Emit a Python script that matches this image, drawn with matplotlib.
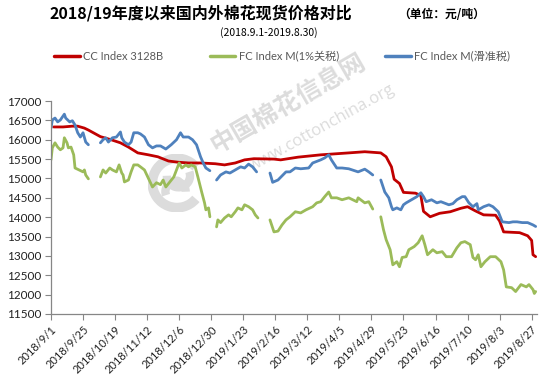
import matplotlib
matplotlib.use("Agg")
import matplotlib.pyplot as plt
from matplotlib.patches import Arc, Circle
import numpy as np
import pandas as pd

plt.rcParams['font.family'] = ['Lato', 'Noto Sans CJK SC', 'DejaVu Sans']

# ---------------- data ----------------
cc_dates = ["2018-09-03","2018-09-10","2018-09-17","2018-09-21","2018-09-26","2018-09-29",
            "2018-10-08","2018-10-16","2018-10-23","2018-10-29","2018-11-05","2018-11-13",
            "2018-11-20","2018-11-28","2018-12-05","2018-12-13","2018-12-22","2019-01-02",
            "2019-01-09","2019-01-17","2019-01-24","2019-01-31","2019-02-15","2019-02-20",
            "2019-03-05","2019-03-22","2019-04-12","2019-04-24","2019-05-06","2019-05-10",
            "2019-05-14","2019-05-16","2019-05-20","2019-05-23","2019-06-01","2019-06-05",
            "2019-06-07","2019-06-12","2019-06-19","2019-06-27","2019-07-05","2019-07-10",
            "2019-07-16","2019-07-22","2019-07-31","2019-08-03","2019-08-06","2019-08-18",
            "2019-08-24","2019-08-27","2019-08-28","2019-08-30"]
cc_values = [16330,16330,16350,16350,16300,16250,
             16080,16000,15920,15810,15660,15610,
             15560,15450,15420,15400,15400,15380,
             15350,15400,15480,15510,15500,15480,
             15550,15610,15660,15690,15660,15560,
             15300,14980,14870,14640,14620,14560,
             14150,14010,14100,14140,14230,14270,
             14160,14060,14050,13900,13620,13600,
             13520,13400,13030,12980]

# FC Index M (sliding-scale duty); None marks holiday gaps
fcs_dates = ["2018-09-01","2018-09-02","2018-09-04","2018-09-06","2018-09-08","2018-09-11",
             "2018-09-12","2018-09-15","2018-09-17","2018-09-19","2018-09-21","2018-09-23",
             "2018-09-25","2018-09-27","2018-09-29","2018-10-03",
             "2018-10-08","2018-10-10","2018-10-12","2018-10-14","2018-10-17","2018-10-20",
             "2018-10-23","2018-10-24","2018-10-26","2018-10-29","2018-10-31","2018-11-02",
             "2018-11-05","2018-11-07","2018-11-10","2018-11-13","2018-11-16","2018-11-19",
             "2018-11-22","2018-11-26","2018-11-30","2018-12-04","2018-12-07","2018-12-09",
             "2018-12-13","2018-12-16","2018-12-19","2018-12-22","2018-12-24","2018-12-26",
             "2018-12-29","2019-01-01",
             "2019-01-03","2019-01-06","2019-01-10","2019-01-13","2019-01-17","2019-01-21",
             "2019-01-24","2019-01-27","2019-01-30","2019-02-02","2019-02-07",
             "2019-02-12","2019-02-14","2019-02-18","2019-02-24","2019-02-27","2019-03-03",
             "2019-03-07","2019-03-13","2019-03-16","2019-03-22","2019-03-25","2019-03-28",
             "2019-03-30","2019-04-03","2019-04-07","2019-04-12","2019-04-19","2019-04-24",
             "2019-04-27","2019-04-30","2019-05-03",
             "2019-05-06","2019-05-09","2019-05-12","2019-05-14","2019-05-15","2019-05-18",
             "2019-05-21","2019-05-23","2019-05-25","2019-05-29","2019-06-02","2019-06-05",
             "2019-06-07","2019-06-09","2019-06-13","2019-06-17","2019-06-20","2019-06-26",
             "2019-06-29","2019-07-02","2019-07-06","2019-07-08","2019-07-11","2019-07-14",
             "2019-07-17","2019-07-18","2019-07-22","2019-07-26","2019-07-29","2019-08-02",
             "2019-08-05","2019-08-10","2019-08-13","2019-08-16","2019-08-20","2019-08-24",
             "2019-08-28","2019-08-30"]
fcs_values = [16300,16510,16560,16460,16510,16660,
              16560,16460,16490,16380,16180,16070,
              16180,15940,15870,None,
              15920,16000,16050,15940,16050,16070,
              16200,16050,15940,15870,15940,16180,
              16180,16150,16070,15870,15790,15840,
              15840,15760,15870,16000,16180,16070,
              16070,16000,15870,15560,15400,15270,
              15200,None,
              14960,15090,15170,15140,15220,15300,
              15270,15370,15300,15170,None,
              15140,14900,14960,15170,15170,15270,
              15250,15270,15400,15480,15530,15610,
              15480,15270,15270,15250,15170,15240,
              15170,15090,None,
              14960,14650,14500,14270,14190,14240,
              14190,14320,14370,14450,14530,14630,
              14530,14400,14450,14370,14400,14320,
              14350,14450,14530,14530,14370,14270,
              14350,14190,14270,14320,14270,14140,
              13880,13860,13880,13880,13860,13860,
              13800,13760]

# FC Index M (1% duty)
fc1_dates = ["2018-09-01","2018-09-02","2018-09-04","2018-09-06","2018-09-08","2018-09-10",
             "2018-09-11","2018-09-13","2018-09-14","2018-09-16","2018-09-18","2018-09-19",
             "2018-09-22","2018-09-25","2018-09-26","2018-09-27","2018-09-29","2018-10-03",
             "2018-10-08","2018-10-10","2018-10-12","2018-10-15","2018-10-17","2018-10-20",
             "2018-10-22","2018-10-24","2018-10-25","2018-10-26","2018-10-29","2018-10-31",
             "2018-11-02","2018-11-05","2018-11-07","2018-11-10","2018-11-13","2018-11-16",
             "2018-11-19","2018-11-22","2018-11-24","2018-11-26","2018-11-29","2018-12-02",
             "2018-12-04","2018-12-06","2018-12-08","2018-12-11","2018-12-13","2018-12-15",
             "2018-12-18","2018-12-20","2018-12-23","2018-12-25","2018-12-26","2018-12-28",
             "2018-12-29","2019-01-01",
             "2019-01-03","2019-01-04","2019-01-06","2019-01-09","2019-01-12","2019-01-14",
             "2019-01-17","2019-01-19","2019-01-22","2019-01-24","2019-01-27","2019-01-30",
             "2019-02-01","2019-02-03","2019-02-07",
             "2019-02-12","2019-02-15","2019-02-18","2019-02-21","2019-02-24","2019-02-27",
             "2019-03-03","2019-03-07","2019-03-11","2019-03-16","2019-03-19","2019-03-22",
             "2019-03-25","2019-03-28","2019-03-30","2019-04-03","2019-04-07","2019-04-12",
             "2019-04-18","2019-04-19","2019-04-24","2019-04-27","2019-04-29","2019-04-30",
             "2019-05-03",
             "2019-05-06","2019-05-08","2019-05-10","2019-05-13","2019-05-14","2019-05-15",
             "2019-05-18","2019-05-20","2019-05-22","2019-05-25","2019-05-27","2019-05-31",
             "2019-06-03","2019-06-06","2019-06-08","2019-06-10","2019-06-14","2019-06-17",
             "2019-06-21","2019-06-24","2019-06-28","2019-07-02","2019-07-05","2019-07-08",
             "2019-07-12","2019-07-14","2019-07-16","2019-07-18","2019-07-20","2019-07-23",
             "2019-07-27","2019-07-31","2019-08-04","2019-08-06","2019-08-08","2019-08-12",
             "2019-08-15","2019-08-19","2019-08-23","2019-08-25","2019-08-28","2019-08-29",
             "2019-08-30"]
fc1_values = [15480,15790,15920,15810,15740,15790,
              16050,15920,15790,15810,15610,15270,
              15220,15170,15220,15090,14990,None,
              15040,15220,15140,15270,15220,15170,
              15350,15140,15090,14910,14960,15170,
              15350,15350,15300,15220,15000,14780,
              14890,14840,14960,14780,14910,15040,
              15220,15400,15270,15350,15300,15350,
              15300,15040,14630,14370,14190,14240,
              14010,None,
              13750,13930,13860,13980,14060,14010,
              14140,14240,14190,14320,14270,14190,
              14060,13980,None,
              13930,13620,13640,13800,13930,14010,
              14140,14110,14190,14270,14370,14400,
              14530,14650,14500,14500,14450,14500,
              14400,14500,14370,14400,14270,14210,
              None,
              14010,13680,13420,13160,12960,12770,
              12850,12720,12960,12980,13160,13240,
              13340,13520,13290,13030,13160,13080,
              13110,12980,12980,13210,13340,13370,
              13290,12960,12900,13030,12720,12850,
              12980,12980,12850,12640,12200,12180,
              12080,12260,12200,12260,12130,12030,
              12080]

series_labels = ["CC Index 3128B", "FC Index M(1%关税)", "FC Index M(滑准税)"]
series_colors = ["#C00000", "#9BBB59", "#4F81BD"]

y_ticks = list(range(11500, 17001, 500))
x_tick_start = "2018-09-01"
x_tick_step_days = 24
n_x_ticks = 16


def to_series(dates, values):
    d = pd.to_datetime(dates)
    v = np.array([np.nan if x is None else x for x in values], dtype=float)
    return d, v


W, H = 547, 392
fig = plt.figure(figsize=(W/100, H/100), dpi=100)

# ---------------- watermark (behind everything) ----------------
wm = '#dcdcdc'
fig.text(289/W, 1-104/H, "中国棉花信息网", rotation=30, fontsize=18, fontweight='bold',
         color=wm, ha='center', va='center', zorder=0, family=['Noto Sans CJK SC'])
fig.text(322/W, 1-128/H, "www.cottonchina.org", rotation=29, fontsize=12,
         color=wm, ha='center', va='center', zorder=0, family=['Open Sans'])
wax = fig.add_axes([148/W, 1-212/H, 58/W, 58/H], zorder=0)
wax.set_xlim(-1, 1); wax.set_ylim(-1, 1); wax.set_aspect('equal'); wax.axis('off')
wax.add_patch(Arc((0, 0), 1.7, 1.7, theta1=40, theta2=320, lw=7, color=wm))
wax.add_patch(Arc((0.05, 0.25), 0.8, 0.8, theta1=180, theta2=20, lw=6, color=wm))
wax.add_patch(Arc((-0.05, -0.3), 0.7, 0.7, theta1=0, theta2=200, lw=6, color=wm))
wax.add_patch(Circle((0.0, 0.0), 0.2, color=wm))

# ---------------- main axes ----------------
ax = fig.add_axes([51/W, 1-314/H, (537-51)/W, (314-101)/H], zorder=2)
ax.patch.set_alpha(0)

lines = []
for (dts, vals), lab, col in zip([(cc_dates, cc_values), (fc1_dates, fc1_values), (fcs_dates, fcs_values)],
                                 series_labels, series_colors):
    d, v = to_series(dts, vals)
    ln, = ax.plot(d, v, color=col, lw=2.0, label=lab, solid_joinstyle='round', solid_capstyle='round')
    lines.append(ln)

ax.set_ylim(11500, 17000)
ax.set_yticks(y_ticks)
ax.set_xlim(pd.Timestamp("2018-09-01"), pd.Timestamp("2019-08-31"))
xt = pd.date_range(x_tick_start, periods=n_x_ticks, freq=f"{x_tick_step_days}D")
ax.set_xticks(xt)
ax.set_xticklabels([f"{t.year}/{t.month}/{t.day}" for t in xt], rotation=45, ha='right',
                   rotation_mode='anchor', fontsize=8, color='#222222')
ax.tick_params(axis='y', labelsize=8.5, colors='#222222', length=4, width=0.8, color='#868686', pad=3)
ax.tick_params(axis='x', length=4, width=0.8, color='#868686', pad=3)
for s in ['top', 'right']:
    ax.spines[s].set_visible(False)
for s in ['left', 'bottom']:
    ax.spines[s].set_color('#868686')
    ax.spines[s].set_linewidth(0.9)

# titles
fig.text(50/W, 1-13/H, "2018/19年度以来国内外棉花现货价格对比", fontsize=11.5, fontweight='bold',
         ha='left', va='center', family=['Noto Sans CJK SC'], color='#000000')
fig.text(398/W, 1-14/H, "（单位：元/吨）", fontsize=8.5, fontweight='bold',
         ha='left', va='center', family=['Noto Sans CJK SC'], color='#000000')
fig.text(269/W, 1-33/H, "(2018.9.1-2019.8.30)", fontsize=7.5, ha='center', va='center',
         family=['Noto Sans CJK SC'], color='#000000')

# legend
leg = fig.legend(handles=lines, labels=series_labels, loc='center left',
                 bbox_to_anchor=(44/W, 1-56/H), ncol=3, frameon=False,
                 handlelength=2.3, handletextpad=0.3, columnspacing=4.2,
                 prop={'family': ['Lato', 'Noto Sans CJK SC'], 'size': 8})
for t in leg.get_texts():
    t.set_color('#595959')
for h in leg.legend_handles:
    h.set_linewidth(2.5)

fig.savefig("out.png", dpi=100)
